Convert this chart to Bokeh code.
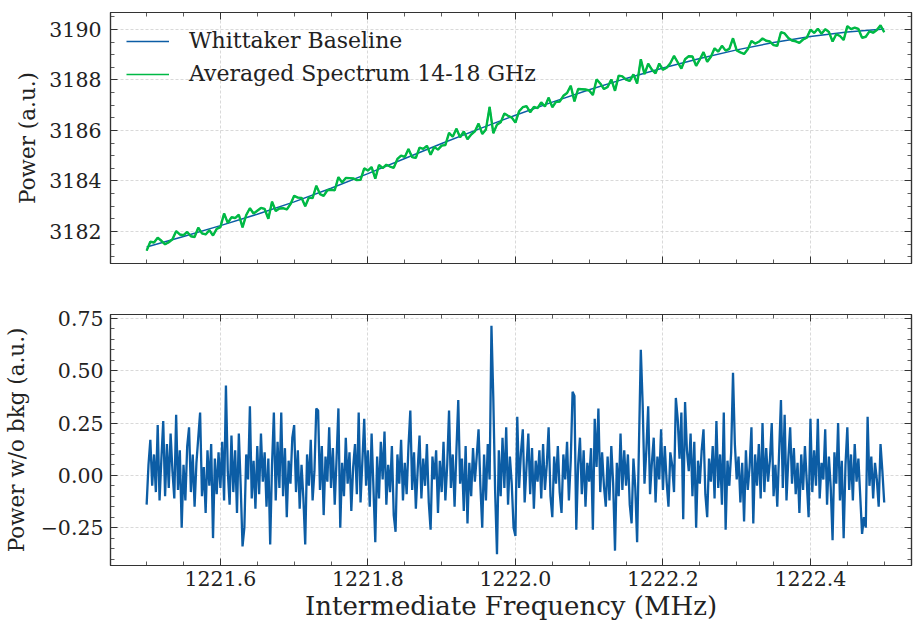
import numpy as np
from bokeh.plotting import figure
from bokeh.layouts import column
from bokeh.models import (FixedTicker, LinearAxis, Range1d, PrintfTickFormatter,
                          CustomJSTickFormatter)
from bokeh.embed import file_html
from bokeh.resources import INLINE

# ---------------- data ----------------
freq_start = 1221.5
freq_stop = 1222.5

# Whittaker baseline (top panel), sampled every 0.05 MHz
baseline = [3181.38, 3181.80, 3182.23, 3182.68, 3183.17, 3183.71, 3184.29,
            3184.89, 3185.48, 3186.05, 3186.60, 3187.12, 3187.61, 3188.06,
            3188.47, 3188.85, 3189.19, 3189.48, 3189.72, 3189.90, 3190.02]

# Averaged spectrum 14-18 GHz (top panel), every 0.005 MHz
spectrum = [
    3181.24, 3181.59, 3181.56, 3181.75, 3181.63, 3181.49, 3181.57, 3181.69, 3182.01, 3181.88,
    3181.85, 3181.98, 3181.81, 3181.78, 3182.15, 3181.92, 3181.88, 3182.05, 3181.84, 3182.10,
    3182.17, 3182.71, 3182.34, 3182.56, 3182.53, 3182.66, 3182.16, 3182.65, 3182.92, 3182.71,
    3182.82, 3182.93, 3182.89, 3182.50, 3183.18, 3182.81, 3182.91, 3182.92, 3182.87, 3183.08,
    3183.41, 3183.34, 3183.33, 3183.00, 3183.34, 3183.32, 3183.81, 3183.48, 3183.41, 3183.63,
    3183.65, 3183.63, 3184.15, 3183.94, 3184.12, 3184.11, 3184.10, 3184.03, 3184.04, 3184.50,
    3184.41, 3184.55, 3184.09, 3184.63, 3184.51, 3184.64, 3184.57, 3184.52, 3184.87, 3185.00,
    3184.95, 3185.26, 3184.94, 3184.91, 3185.32, 3185.27, 3185.39, 3185.04, 3185.34, 3185.24,
    3185.40, 3185.42, 3185.90, 3185.75, 3186.07, 3185.73, 3185.96, 3185.65, 3185.84, 3185.96,
    3186.27, 3185.86, 3186.04, 3186.93, 3185.89, 3186.23, 3186.32, 3186.67, 3186.58, 3186.51,
    3186.31, 3186.76, 3186.92, 3186.96, 3186.72, 3186.93, 3186.88, 3187.11, 3186.95, 3187.30,
    3186.92, 3187.13, 3187.14, 3187.37, 3187.48, 3187.77, 3187.15, 3187.64, 3187.63, 3187.62,
    3187.58, 3187.40, 3188.02, 3187.86, 3187.64, 3187.72, 3188.02, 3187.57, 3188.17, 3188.14,
    3188.01, 3187.96, 3188.22, 3187.86, 3188.82, 3188.23, 3188.64, 3188.41, 3188.26, 3188.65,
    3188.40, 3188.48, 3188.66, 3188.95, 3188.70, 3188.45, 3188.82, 3188.94, 3188.93, 3188.56,
    3188.81, 3189.10, 3188.72, 3188.92, 3189.25, 3189.12, 3189.35, 3189.16, 3189.23, 3189.65,
    3189.17, 3189.09, 3189.03, 3189.21, 3189.54, 3189.44, 3189.51, 3189.64, 3189.55, 3189.52,
    3189.38, 3189.35, 3189.89, 3189.84, 3189.66, 3189.56, 3189.53, 3189.47, 3189.60, 3189.67,
    3189.99, 3189.86, 3190.03, 3189.83, 3190.01, 3189.90, 3189.52, 3189.81, 3189.74, 3189.58,
    3190.13, 3190.01, 3190.07, 3190.02, 3189.67, 3189.71, 3189.92, 3189.87, 3189.98, 3190.16,
    3189.89]

# Power without background (bottom panel), every 0.0025 MHz
residual = [
    -0.14, 0.05, 0.17, -0.05, 0.10, -0.08, 0.24, -0.12, 0.08, 0.26, -0.10, 0.15, -0.06, 0.20, 0.02, -0.11, 0.29, -0.07, 0.12, -0.25,
    0.05, -0.12, 0.14, 0.23, -0.08, 0.10, -0.15, 0.06, 0.18, 0.30, -0.10, 0.04, -0.18, 0.12, -0.05, 0.15, -0.30, 0.08, -0.09, 0.11,
    -0.06, 0.16, -0.12, 0.43, 0.02, -0.14, 0.19, -0.08, 0.12, -0.18, 0.20, -0.05, -0.34, -0.25, 0.10, -0.02, 0.33, -0.11, 0.07, -0.16,
    0.14, -0.09, 0.20, -0.03, 0.11, -0.15, 0.08, -0.33, 0.05, 0.30, -0.12, 0.16, -0.06, 0.30, -0.10, 0.13, -0.20, 0.07, -0.04, 0.18,
    0.24, -0.08, 0.12, -0.16, 0.05, -0.11, -0.33, 0.10, -0.05, 0.17, -0.12, 0.02, 0.32, 0.31, -0.07, 0.14, -0.19, 0.09, -0.03, 0.23,
    -0.06, 0.13, -0.14, 0.08, 0.32, -0.25, 0.06, -0.10, 0.18, -0.04, 0.11, -0.17, 0.04, 0.15, -0.09, 0.30, -0.13, 0.07, 0.27, -0.05,
    0.12, -0.15, 0.20, -0.06, -0.32, 0.09, -0.11, 0.16, -0.02, 0.21, -0.14, 0.05, -0.08, 0.14, -0.19, -0.27, 0.10, -0.04, 0.17, -0.12,
    0.06, -0.09, 0.14, 0.31, -0.07, 0.11, -0.16, 0.03, 0.19, -0.11, 0.08, -0.05, 0.15, -0.13, -0.26, 0.09, -0.02, 0.12, -0.18, 0.07,
    -0.08, 0.16, -0.12, 0.05, 0.31, -0.06, 0.10, -0.15, 0.12, 0.36, -0.04, 0.08, -0.17, 0.14, -0.23, 0.06, -0.10, 0.13, -0.03, 0.09,
    0.22, -0.05, -0.25, 0.10, -0.12, 0.15, -0.02, 0.715, 0.37, -0.08, -0.377, 0.12, -0.10, 0.18, -0.06, 0.23, -0.14, 0.09, -0.04, -0.25,
    -0.29, 0.28, -0.06, 0.11, 0.22, -0.13, 0.04, 0.20, -0.09, 0.13, -0.16, 0.07, -0.03, 0.12, -0.11, 0.15, -0.07, 0.05, 0.23, -0.10,
    -0.20, 0.09, -0.04, 0.14, -0.08, -0.18, 0.10, -0.02, 0.16, -0.12, 0.07, 0.40, 0.38, -0.26, 0.05, 0.18, -0.09, 0.12, -0.15, 0.06,
    -0.03, 0.13, -0.26, 0.27, 0.04, 0.32, -0.08, 0.11, -0.05, -0.15, 0.09, -0.12, 0.14, -0.04, -0.36, 0.06, -0.10, 0.20, -0.07, 0.12,
    -0.05, 0.10, -0.14, -0.23, 0.08, -0.06, -0.32, 0.15, 0.60, 0.34, -0.04, 0.12, 0.33, -0.09, 0.06, 0.18, -0.13, 0.09, -0.02, 0.22,
    -0.07, 0.14, -0.03, -0.15, 0.11, 0.05, -0.08, 0.37, 0.27, 0.08, 0.30, -0.21, 0.35, 0.12, 0.02, 0.20, -0.10, 0.16, -0.25, 0.07,
    -0.04, 0.12, 0.22, -0.09, -0.20, 0.08, -0.03, 0.14, -0.11, 0.26, -0.06, 0.10, -0.14, 0.30, -0.26, 0.07, -0.05, 0.11, 0.49, 0.15,
    -0.02, 0.09, -0.13, 0.06, -0.22, 0.12, -0.07, 0.04, 0.23, -0.23, 0.10, -0.05, 0.15, -0.11, 0.25, -0.08, 0.13, -0.03, 0.07, 0.25,
    -0.10, 0.05, -0.15, 0.11, 0.36, -0.06, 0.29, -0.12, 0.08, 0.23, -0.04, 0.13, -0.09, 0.06, -0.18, 0.10, -0.07, 0.14, -0.03, -0.20,
    0.27, -0.08, 0.12, -0.05, 0.27, -0.11, 0.06, -0.02, 0.22, -0.14, 0.09, -0.06, -0.31, 0.11, -0.04, 0.25, -0.12, 0.07, -0.30, 0.05,
    0.23, -0.07, 0.10, -0.12, 0.15, -0.03, 0.08, -0.10, -0.28, -0.20, -0.25, 0.28, -0.05, 0.09, -0.11, 0.06, -0.02, -0.15, 0.15, 0.02,
    -0.13]

x_ticks = [1221.6, 1221.8, 1222.0, 1222.2, 1222.4]
top_y_ticks = [3182, 3184, 3186, 3188, 3190]
bot_y_ticks = [-0.25, 0.0, 0.25, 0.50, 0.75]

freq_res = np.linspace(freq_start, freq_stop, len(residual))
freq_spec = np.linspace(freq_start, freq_stop, len(spectrum))
freq_base = np.linspace(freq_start, freq_stop, len(baseline))

# ---------------- styling ----------------
FONT = "DejaVu Serif"
SPINE = "#333333"
TEXT = "#222222"
BLUE = "#0C5DA5"
GREEN = "#00B945"
TICK_PX = "20.5px"
YLABEL_PX = "21.5px"

x_minor = list(np.round(np.arange(1221.45, 1222.551, 0.05), 3))
top_minor = list(np.arange(3180.5, 3191.0, 0.5))
bot_minor = list(np.round(np.arange(-0.45, 0.801, 0.05), 3))

x_range = Range1d(1221.451, 1222.537)
BLANK = CustomJSTickFormatter(code="return '';")


def style_axis(ax, major, minor, show_labels):
    ax.ticker = FixedTicker(ticks=major, minor_ticks=minor)
    ax.major_tick_in = 7
    ax.major_tick_out = 0
    ax.minor_tick_in = 4
    ax.minor_tick_out = 0
    ax.axis_line_color = SPINE
    ax.axis_line_width = 1.2
    ax.major_tick_line_color = SPINE
    ax.minor_tick_line_color = SPINE
    ax.major_tick_line_width = 1.0
    ax.minor_tick_line_width = 0.8
    ax.major_label_text_font = FONT
    ax.major_label_text_color = TEXT
    ax.axis_label_text_font = FONT
    ax.axis_label_text_color = TEXT
    ax.axis_label_text_font_style = "normal"
    if show_labels:
        ax.major_label_text_font_size = TICK_PX
    else:
        ax.formatter = BLANK
        ax.major_label_text_font_size = "1px"
        ax.major_label_standoff = 0


def make_fig(height, y_range, border_top, border_bottom):
    p = figure(width=913, height=height, x_range=x_range, y_range=y_range,
               output_backend="svg", toolbar_location=None,
               min_border_left=110, min_border_right=2,
               min_border_top=border_top, min_border_bottom=border_bottom)
    p.outline_line_color = SPINE
    p.outline_line_width = 1.2
    p.grid.grid_line_color = "#cfcfcf"
    p.grid.grid_line_dash = "3 2"
    p.grid.grid_line_width = 0.8
    p.background_fill_color = "white"
    p.border_fill_color = "white"
    return p


# ---------------- top panel ----------------
p1 = make_fig(290, Range1d(3180.73, 3190.67), 12, 27)
p1.line(freq_base, baseline, color=BLUE, line_width=1.5,
        legend_label="Whittaker Baseline")
# thin line carries the legend key; the same data drawn thicker on top
p1.line(freq_spec, spectrum, color=GREEN, line_width=1.5,
        legend_label="Averaged Spectrum 14-18 GHz")
p1.line(freq_spec, spectrum, color=GREEN, line_width=2.4)

p1.yaxis.axis_label = "Power (a.u.)"
p1.yaxis.axis_label_text_font_size = YLABEL_PX
p1.yaxis.axis_label_standoff = 6
p1.yaxis.major_label_standoff = 9
style_axis(p1.xaxis[0], x_ticks, x_minor, False)
style_axis(p1.yaxis[0], top_y_ticks, top_minor, True)
p1.yaxis.formatter = PrintfTickFormatter(format="%d")
ax_top = LinearAxis()
style_axis(ax_top, x_ticks, x_minor, False)
p1.add_layout(ax_top, "above")
ax_right = LinearAxis()
style_axis(ax_right, top_y_ticks, top_minor, False)
p1.add_layout(ax_right, "right")

lg = p1.legend[0]
lg.location = "top_left"
lg.border_line_alpha = 0
lg.background_fill_alpha = 0
lg.label_text_font = FONT
lg.label_text_font_size = "22px"
lg.label_text_color = TEXT
lg.glyph_width = 43
lg.label_standoff = 20
lg.spacing = 8
lg.padding = 6
lg.margin = 10

# ---------------- bottom panel ----------------
p2 = make_fig(333, Range1d(-0.431, 0.769), 24, 57)
p2.line(freq_res, residual, color=BLUE, line_width=2.3)

p2.xaxis.axis_label = "Intermediate Frequency (MHz)"
p2.xaxis.axis_label_text_font_size = "26px"
p2.xaxis.axis_label_standoff = 2
p2.xaxis.major_label_standoff = 5
p2.yaxis.axis_label = "Power w/o bkg (a.u.)"
p2.yaxis.axis_label_text_font_size = YLABEL_PX
p2.yaxis.axis_label_standoff = 9
p2.yaxis.major_label_standoff = 7
style_axis(p2.xaxis[0], x_ticks, x_minor, True)
style_axis(p2.yaxis[0], bot_y_ticks, bot_minor, True)
p2.xaxis.formatter = PrintfTickFormatter(format="%.1f")
p2.yaxis.formatter = CustomJSTickFormatter(
    code="return (tick < 0 ? '\\u2212' : '') + Math.abs(tick).toFixed(2);")
ax_top2 = LinearAxis()
style_axis(ax_top2, x_ticks, x_minor, False)
p2.add_layout(ax_top2, "above")
ax_right2 = LinearAxis()
style_axis(ax_right2, bot_y_ticks, bot_minor, False)
p2.add_layout(ax_right2, "right")

layout = column(p1, p2, spacing=0)
open("out.html", "w").write(file_html(layout, INLINE))
